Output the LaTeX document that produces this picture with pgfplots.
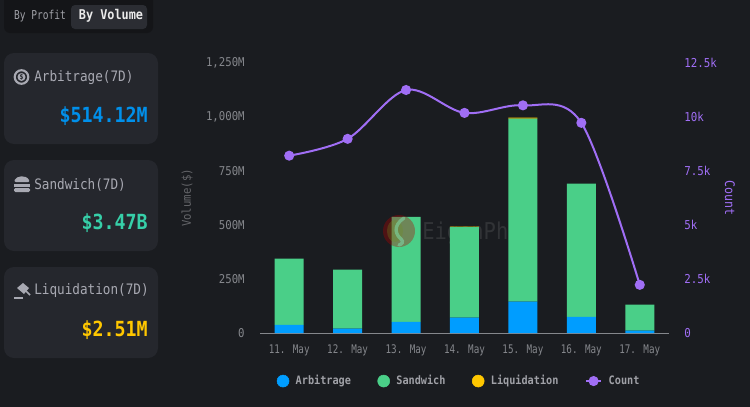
\documentclass[border=0pt]{standalone}
\usepackage{pgfplots}
\pgfplotsset{compat=1.18}
\usepackage{fontspec}
\setmainfont[FakeStretch=0.88]{DejaVu Sans Mono}
\newfontfamily\tabfont[FakeStretch=0.78]{DejaVu Sans Mono}
\definecolor{bg}{HTML}{1A1C20}
\definecolor{card}{HTML}{25272D}
\definecolor{tabbg}{HTML}{141518}
\definecolor{tabon}{HTML}{2B2D33}
\definecolor{arb}{HTML}{009DFF}
\definecolor{sand}{HTML}{4ACF88}
\definecolor{liq}{HTML}{FFC700}
\definecolor{cnt}{HTML}{A06EF5}
\definecolor{ticktxt}{HTML}{85878C}
\definecolor{cardtxt}{HTML}{A8A9B2}
\definecolor{legtxt}{HTML}{A0A1A7}
\definecolor{sandval}{HTML}{36CFA8}
\pgfplotstableread{
idx arb sand liq count
0 38 306 0 8210
1 20 273 0 8990
2 52 486 0 11250
3 71 419 2 10190
4 145 848 4 10540
5 75 616 0 9730
6 11 120 0 2230
}\datatable
\newcommand{\daylabels}{11. May,12. May,13. May,14. May,15. May,16. May,17. May}
\pgfplotsset{countlegend/.style={legend image code/.code={\draw[mark repeat=2,mark phase=2,##1] plot coordinates {(0pt,0pt) (5.6pt,0pt) (11.2pt,0pt)};}}}
\begin{document}
\begin{tikzpicture}
% picture frame in image pixels
\begin{scope}[x=0.75pt,y=-0.75pt]
\path[fill=bg,use as bounding box] (0,0) rectangle (750,407);
\fill[tabbg,rounded corners=4.5pt] (4,-8) rectangle (153,33);
\fill[tabon,rounded corners=3pt] (71,5) rectangle (147,29);
\node[text=legtxt,font=\tabfont\fontsize{9.2}{10}\selectfont] at (40,16) {By Profit};
\node[text=white!92!black,font=\fontsize{10.1}{11}\selectfont\bfseries] at (111,16) {By Volume};
\fill[card,rounded corners=7.5pt] (4,53) rectangle (158,144);
\fill[card,rounded corners=7.5pt] (4,160) rectangle (158,251);
\fill[card,rounded corners=7.5pt] (4,267) rectangle (158,358);
\node[text=cardtxt,anchor=west,inner sep=0pt,font=\fontsize{10.8}{12}\selectfont] at (34,78) {Arbitrage(7D)};
\node[text=cardtxt,anchor=west,inner sep=0pt,font=\fontsize{10.8}{12}\selectfont] at (34,184.5) {Sandwich(7D)};
\node[text=cardtxt,anchor=west,inner sep=0pt,font=\fontsize{10.8}{12}\selectfont] at (34,291) {Liquidation(7D)};
\node[text=arb!92!black,anchor=east,inner sep=0pt,font=\fontsize{15.6}{17}\selectfont\bfseries] at (148,116) {\$514.12M};
\node[text=sandval,anchor=east,inner sep=0pt,font=\fontsize{15.6}{17}\selectfont\bfseries] at (148,223) {\$3.47B};
\node[text=liq,anchor=east,inner sep=0pt,font=\fontsize{15.6}{17}\selectfont\bfseries] at (148,330) {\$2.51M};
% card icons
\draw[cardtxt,line width=1.6pt] (21.5,77) circle (6.8);
\fill[cardtxt] (21.5,77) circle (4);
\node[text=card,inner sep=0pt,font=\fontsize{5.5}{6}\selectfont\bfseries] at (21.5,77) {\$};
\fill[cardtxt,rounded corners=1.5pt] (14,182) .. controls (16,176) and (26,174) .. (30,182) -- cycle;
\fill[cardtxt] (14,184) rectangle (30,186.5);
\fill[cardtxt,rounded corners=1pt] (14,188) rectangle (30,192);
\fill[cardtxt] (17,288) -- (23,283) -- (29,288) -- (24,294) -- cycle;
\draw[cardtxt,line width=1.2pt] (25,290) -- (30,295);
\fill[cardtxt] (14,297) rectangle (23,298.5);
% watermark text sits behind the bars
\node[text=white,opacity=0.1,anchor=west,inner sep=0pt,font=\fontsize{17.4}{19}\selectfont] at (422,233) {EigenPhi};
\end{scope}
\begin{axis}[
  at={(195pt,-249.75pt)},anchor=south west,
  scale only axis,width=306.75pt,height=202.5pt,
  xmin=-0.5,xmax=6.5,ymin=0,ymax=1250,
  ybar stacked,bar width=21.75pt,
  separate axis lines,
  axis x line*=bottom,axis y line*=left,
  x axis line style={draw=ticktxt,line width=0.75pt,-},
  y axis line style={draw=none},
  major tick length=0pt,
  xtick=data,xticklabels/.expanded={\daylabels},
  ytick={0,250,500,750,1000,1250},
  yticklabels={0,250M,500M,750M,{1,000M},{1,250M}},
  tick label style={text=ticktxt,font=\fontsize{9.1}{10}\selectfont},
  xticklabel style={font=\tabfont\fontsize{8.9}{10}\selectfont,yshift=-5pt},
  yticklabel style={xshift=-8pt},
  ylabel={Volume(\$)},
  ylabel style={at={(axis description cs:-0.178,0.5)},anchor=center,text=ticktxt!75!black,font=\fontsize{9.1}{10}\selectfont},
  clip=false,
]
\addplot[fill=arb,draw=none] table[x=idx,y=arb] {\datatable};
\addplot[fill=sand,draw=none] table[x=idx,y=sand] {\datatable};
\addplot[fill=liq,draw=none] table[x=idx,y=liq] {\datatable};
\end{axis}
\begin{axis}[
  at={(195pt,-249.75pt)},anchor=south west,
  scale only axis,width=306.75pt,height=202.5pt,
  xmin=-0.5,xmax=6.5,ymin=0,ymax=12500,
  axis x line=none,axis y line*=right,
  y axis line style={draw=none},
  major tick length=0pt,
  scaled y ticks=false,
  ytick={0,2500,5000,7500,10000,12500},
  yticklabels={0,2.5k,5k,7.5k,10k,12.5k},
  tick label style={text=cnt,font=\fontsize{9.2}{10}\selectfont},
  yticklabel style={xshift=8pt},
  ylabel={Count},
  ylabel style={at={(axis description cs:1.149,0.5)},anchor=center,rotate=180,text=cnt,font=\fontsize{9.9}{11}\selectfont},
  clip=false,
  legend style={at={(axis description cs:0.488,-0.178)},anchor=center,draw=none,fill=none,
    text=legtxt,font=\fontsize{8.7}{10}\selectfont\bfseries,
    legend columns=4,
    /tikz/every even column/.append style={column sep=18pt},
    /tikz/every odd column/.append style={column sep=3pt}},
  legend cell align=left,
]
\addlegendimage{only marks,mark=*,mark size=4.5pt,color=arb}
\addlegendentry{Arbitrage}
\addlegendimage{only marks,mark=*,mark size=4.5pt,color=sand}
\addlegendentry{Sandwich}
\addlegendimage{only marks,mark=*,mark size=4.5pt,color=liq}
\addlegendentry{Liquidation}
\addplot[color=cnt,line width=1.5pt,smooth,tension=0.55,mark=*,mark size=3pt,mark options={fill=cnt},countlegend]
  table[x=idx,y=count] {\datatable};
\addlegendentry{Count}
\end{axis}
% watermark logo lies over the bars
\begin{scope}[x=0.75pt,y=-0.75pt]
\fill[red!70!black,opacity=0.35] (399,231) circle (16);
\fill[sand!40!yellow!60!black,opacity=0.3] (395,231) ellipse (8 and 11);
\draw[sand!70!white,opacity=0.55,line width=2.5pt,line cap=round] (404,218) .. controls (392,226) and (396,235) .. (401,239) .. controls (404,242) and (402,244) .. (399,245);
\end{scope}
\end{tikzpicture}
\end{document}
